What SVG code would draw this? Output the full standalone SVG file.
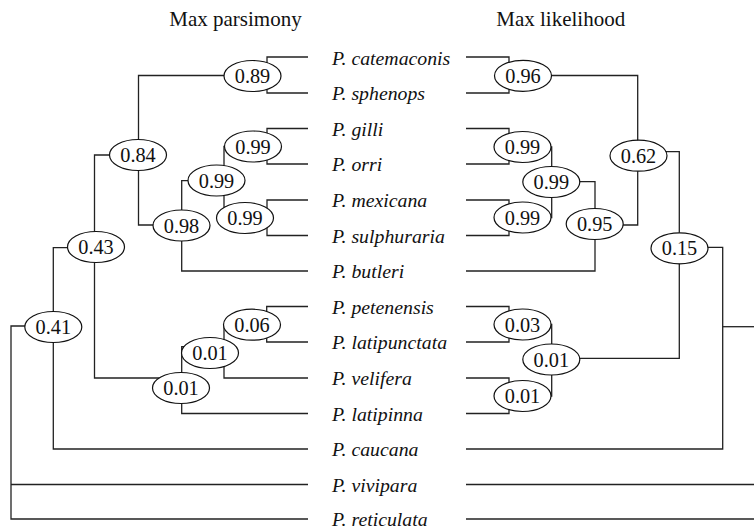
<svg xmlns="http://www.w3.org/2000/svg" width="754" height="529" viewBox="0 0 754 529">
<style>
.ln{fill:none;stroke:#222;stroke-width:1.3}
.nd ellipse{fill:#fff;stroke:#111;stroke-width:1.2}
.nd text{font-family:"Liberation Serif",serif;font-size:20.3px;text-anchor:middle;fill:#111}
.lf{font-family:"Liberation Serif",serif;font-size:19.8px;font-style:italic;fill:#111}
.hd{font-family:"Liberation Serif",serif;font-size:21px;text-anchor:middle;fill:#111}
</style>
<rect width="754" height="529" fill="#fff"/>
<text class="hd" x="235.5" y="26">Max parsimony</text>
<text class="hd" x="560.7" y="26">Max likelihood</text>
<g id="connectors" class="ln">
<path d="M308,57 H267 V93 H308"/>
<path d="M267,75.5 H138.5 V225 H181.7"/>
<path d="M224,180.7 H181.7 V271 H308"/>
<path d="M308,128.5 H267 V164 H308"/>
<path d="M308,200 H267 V235.5 H308"/>
<path d="M267,146.5 H224 V218 H267"/>
<path d="M138.5,155 H94.5 V378 H181.7"/>
<path d="M224,346.7 H181.7 V413.5 H308"/>
<path d="M308,306.5 H266.7 V342 H308"/>
<path d="M266.7,324.7 H224 V378 H308"/>
<path d="M94.5,247.7 H53.3 V449 H308"/>
<path d="M53.3,326 H11 V519 H308"/>
<path d="M11,484.5 H308"/>
<path d="M466,57 H509 V93 H466"/>
<path d="M509,75.5 H637.7 V225 H595"/>
<path d="M637.7,151.7 H679.3 V358.3 H551.7"/>
<path d="M679.3,247.3 H722.7 V449 H466"/>
<path d="M722.7,326.7 H754"/>
<path d="M466,128.5 H509 V164 H466"/>
<path d="M466,200 H509 V235.5 H466"/>
<path d="M509,147 H551.7 V217.5 H509"/>
<path d="M551.7,181.7 H595 V271 H466"/>
<path d="M466,306.5 H509 V342 H466"/>
<path d="M466,378 H509 V413.5 H466"/>
<path d="M509,324.5 H551.7 V396 H509"/>
<path d="M466,484.5 H754"/>
<path d="M466,519 H754"/>
</g>
<g id="leaves">
<text class="lf" x="332" y="64.5">P. catemaconis</text>
<text class="lf" x="332" y="100">P. sphenops</text>
<text class="lf" x="332" y="135.5">P. gilli</text>
<text class="lf" x="332" y="171">P. orri</text>
<text class="lf" x="332" y="207">P. mexicana</text>
<text class="lf" x="332" y="242.5">P. sulphuraria</text>
<text class="lf" x="332" y="278">P. butleri</text>
<text class="lf" x="332" y="313.5">P. petenensis</text>
<text class="lf" x="332" y="349">P. latipunctata</text>
<text class="lf" x="332" y="385">P. velifera</text>
<text class="lf" x="332" y="420.5">P. latipinna</text>
<text class="lf" x="332" y="456">P. caucana</text>
<text class="lf" x="332" y="491.5">P. vivipara</text>
<text class="lf" x="332" y="526">P. reticulata</text>
</g>
<g id="mp-089" class="nd"><ellipse cx="252.5" cy="76" rx="28.5" ry="15.5"/><text x="252.5" y="83">0.89</text></g>
<g id="mp-084" class="nd"><ellipse cx="138" cy="155" rx="28.5" ry="15.5"/><text x="138" y="162">0.84</text></g>
<g id="mp-099a" class="nd"><ellipse cx="253" cy="146.5" rx="28.5" ry="15.5"/><text x="253" y="153.5">0.99</text></g>
<g id="mp-099b" class="nd"><ellipse cx="216.5" cy="180.5" rx="28.5" ry="15.5"/><text x="216.5" y="187.5">0.99</text></g>
<g id="mp-099c" class="nd"><ellipse cx="245" cy="218" rx="28.5" ry="15.5"/><text x="245" y="225">0.99</text></g>
<g id="mp-098" class="nd"><ellipse cx="181.5" cy="225.5" rx="28.5" ry="15.5"/><text x="181.5" y="232.5">0.98</text></g>
<g id="mp-043" class="nd"><ellipse cx="96" cy="247" rx="28.5" ry="15.5"/><text x="96" y="254">0.43</text></g>
<g id="mp-041" class="nd"><ellipse cx="53.3" cy="327" rx="28.5" ry="15.5"/><text x="53.3" y="334">0.41</text></g>
<g id="mp-006" class="nd"><ellipse cx="252" cy="324.7" rx="28.5" ry="15.5"/><text x="252" y="331.7">0.06</text></g>
<g id="mp-001a" class="nd"><ellipse cx="210" cy="353" rx="28.5" ry="15.5"/><text x="210" y="360">0.01</text></g>
<g id="mp-001b" class="nd"><ellipse cx="181" cy="388" rx="28.5" ry="15.5"/><text x="181" y="395">0.01</text></g>
<g id="ml-096" class="nd"><ellipse cx="523" cy="75.8" rx="28.5" ry="15.5"/><text x="523" y="82.8">0.96</text></g>
<g id="ml-099a" class="nd"><ellipse cx="522.5" cy="147" rx="28.5" ry="15.5"/><text x="522.5" y="154">0.99</text></g>
<g id="ml-099b" class="nd"><ellipse cx="551.3" cy="182" rx="28.5" ry="15.5"/><text x="551.3" y="189">0.99</text></g>
<g id="ml-099c" class="nd"><ellipse cx="522.5" cy="217.5" rx="28.5" ry="15.5"/><text x="522.5" y="224.5">0.99</text></g>
<g id="ml-095" class="nd"><ellipse cx="594.7" cy="224" rx="28.5" ry="15.5"/><text x="594.7" y="231">0.95</text></g>
<g id="ml-062" class="nd"><ellipse cx="638.5" cy="155.7" rx="28.5" ry="15.5"/><text x="638.5" y="162.7">0.62</text></g>
<g id="ml-015" class="nd"><ellipse cx="679.5" cy="248.3" rx="28.5" ry="15.5"/><text x="679.5" y="255.3">0.15</text></g>
<g id="ml-003" class="nd"><ellipse cx="522.5" cy="324.5" rx="28.5" ry="15.5"/><text x="522.5" y="331.5">0.03</text></g>
<g id="ml-001a" class="nd"><ellipse cx="551.3" cy="359.5" rx="28.5" ry="15.5"/><text x="551.3" y="366.5">0.01</text></g>
<g id="ml-001b" class="nd"><ellipse cx="522.5" cy="396" rx="28.5" ry="15.5"/><text x="522.5" y="403">0.01</text></g>
</svg>
